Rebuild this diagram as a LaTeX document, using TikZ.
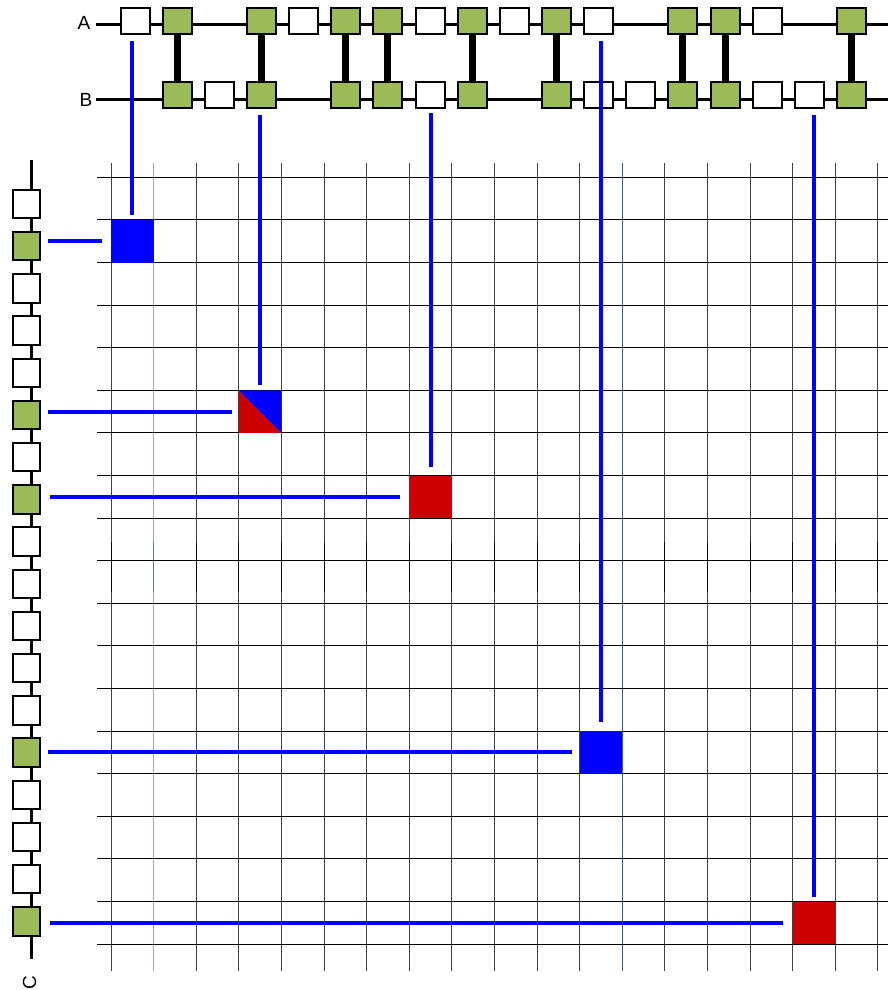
\documentclass[tikz,border=0pt]{standalone}
\usepackage{fontspec}
\setmainfont{Liberation Sans}
\definecolor{boxgreen}{HTML}{9BBB59}
\definecolor{sqred}{HTML}{CC0000}
\definecolor{sqblue}{HTML}{0000FF}
\definecolor{lightgridblue}{HTML}{8EA9C8}
\definecolor{midgridblue}{HTML}{5A7DAB}
\definecolor{darkgridblue}{HTML}{2E5C99}
\begin{document}
\begin{tikzpicture}[x=1pt,y=-1pt,
  gridline/.style={line width=1pt, black!75},
  chainline/.style={line width=3pt, black},
  pairbar/.style={line width=7pt, black},
  hboxw/.style={draw=black, line width=2pt, fill=white, minimum width=29pt, minimum height=26.5pt, inner sep=0pt},
  hboxg/.style={hboxw, fill=boxgreen},
  vboxw/.style={draw=black, line width=2pt, fill=white, minimum width=27.5pt, minimum height=28.5pt, inner sep=0pt},
  vboxg/.style={vboxw, fill=boxgreen},
  cellsq/.style={minimum width=42.6pt, minimum height=42.6pt, inner sep=0pt, outer sep=0pt},
  bluelink/.style={line width=4pt, sqblue},
  lbl/.style={font=\fontsize{19}{19}\selectfont, inner sep=0pt}
]
\useasboundingbox (0,0) rectangle (888,990);
\fill[white] (0,0) rectangle (888,990);

% grid
\foreach \j in {0,2,3,4,5,6,7,8,9,10,11,13,14,15,16,17,18}
  \draw[gridline] ({111+42.6*\j},163) -- ({111+42.6*\j},971);
\foreach \j in {0,2,3,4,5,6,7,8,9,10,11,13,14,15,16,17,18}
  \draw[line width=1pt, black!95] ({111+42.6*\j},542) -- ({111+42.6*\j},592);
\draw[line width=1.1pt, lightgridblue] (153.6,163) -- (153.6,971);
\draw[line width=1.1pt, midgridblue] (153.6,542) -- (153.6,592);
\draw[line width=1pt, darkgridblue] (622.2,163) -- (622.2,971);
\foreach \i in {0,...,18}
  \draw[line width=1.1pt, black] (97,{177.3+42.6*\i}) -- (888,{177.3+42.6*\i});

% chain lines
\coordinate (aL) at (96,25);  \coordinate (aR) at (888,25);
\coordinate (bL) at (96,99);  \coordinate (bR) at (888,99);
\coordinate (cT) at (31.7,160); \coordinate (cB) at (31.7,959);
\draw[chainline] (aL) -- (aR);
\draw[chainline] (bL) -- (bR);
\draw[chainline] (cT) -- (cB);

% labels
\node[lbl] (labA) at (84,23.3) {A};
\node[lbl] (labB) at (86,100) {B};
\node[lbl, rotate=90] (labC) at (29.5,983) {C};

% row A boxes
\foreach \k/\t in {0/w,1/g,3/g,4/w,5/g,6/g,7/w,8/g,9/w,10/g,11/w,13/g,14/g,15/w,17/g}
  \node[hbox\t] (a\k) at ({135+42.15*\k},21) {};
% row B boxes
\foreach \k/\t in {1/g,2/w,3/g,5/g,6/g,7/w,8/g,10/g,11/w,12/w,13/g,14/g,15/w,16/w,17/g}
  \node[hbox\t] (b\k) at ({135+42.15*\k},95) {};
% pair bars
\foreach \k in {1,3,5,6,8,10,13,14,17}
  \draw[pairbar] (a\k.south) -- (b\k.north);
% redraw boxes over bars
\foreach \k/\t in {1/g,3/g,5/g,6/g,8/g,10/g,13/g,14/g,17/g}{
  \node[hbox\t] at (a\k) {};
  \node[hbox\t] at (b\k) {};
}

% column C boxes
\foreach \m/\t in {0/w,1/g,2/w,3/w,4/w,5/g,6/w,7/g,8/w,9/w,10/w,11/w,12/w,13/g,14/w,15/w,16/w,17/g}
  \node[vbox\t] (c\m) at (26.4,{204+42.2*\m}) {};

% coloured cells
\node[cellsq, fill=sqblue] (s1) at (132.3,241.2) {};
\node[cellsq] (s2) at (260.1,411.6) {};
\fill[sqred] (s2.north west) -- (s2.south west) -- (s2.south east) -- cycle;
\fill[sqblue] (s2.north west) -- (s2.north east) -- (s2.south east) -- cycle;
\node[cellsq, fill=sqred] (s3) at (430.5,496.8) {};
\node[cellsq, fill=sqblue] (s4) at (600.9,752.4) {};
\node[cellsq, fill=sqred] (s5) at (813.9,922.8) {};

% vertical blue links
\draw[bluelink, shorten <=6pt, shorten >=4.5pt] (s1.north |- a0.south) -- (s1.north);
\draw[bluelink, shorten <=6pt, shorten >=5pt] (s2.north |- b3.south) -- (s2.north);
\draw[bluelink, shorten <=4pt, shorten >=8.5pt] (s3.north |- b7.south) -- (s3.north);
\draw[bluelink, shorten <=6pt, shorten >=9.5pt] (s4.north |- a11.south) -- (s4.north);
\draw[bluelink, shorten <=6pt, shorten >=4.5pt] (s5.north |- b16.south) -- (s5.north);

% horizontal blue links
\draw[bluelink, shorten <=6.5pt, shorten >=9.5pt] (c1.east |- s1.west) -- (s1.west);
\draw[bluelink, shorten <=6.5pt, shorten >=7pt] (c5.east |- s2.west) -- (s2.west);
\draw[bluelink, shorten <=8.5pt, shorten >=9pt] (c7.east |- s3.west) -- (s3.west);
\draw[bluelink, shorten <=6.5pt, shorten >=7.5pt] (c13.east |- s4.west) -- (s4.west);
\draw[bluelink, shorten <=8.5pt, shorten >=9.5pt] (c17.east |- s5.west) -- (s5.west);
\end{tikzpicture}
\end{document}
